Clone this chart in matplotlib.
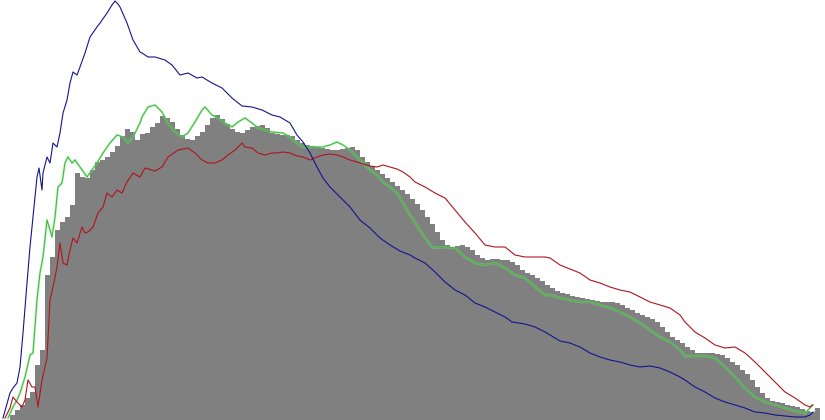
"""Image histogram: luminance bars with red, green and blue channel curves."""

import numpy as np
import matplotlib
matplotlib.use("Agg")
import matplotlib.pyplot as plt

# Luminance histogram, one value per 5-unit bin starting at 10
lum_start = 10
lum_step = 5
lum_counts = [
    5, 10, 15, 22, 28, 55, 70, 145, 163, 190, 198, 203, 215, 247, 243, 242,
    250, 258, 260, 263, 268, 274, 284, 291, 288, 280, 286, 287, 293, 297, 304, 302,
    298, 291, 285, 281, 280, 284, 288, 295, 302, 305, 301, 296, 291, 288, 287, 290,
    293, 294, 295, 292, 287, 286, 285, 285, 284, 280, 277, 275, 274, 273, 272, 271,
    270, 270, 271, 272, 273, 270, 263, 258, 254, 250, 246, 242, 238, 234, 230, 226,
    221, 216, 210, 203, 196, 188, 180, 175, 173, 174, 175, 173, 170, 165, 162, 160,
    161, 161, 160, 160, 158, 155, 150, 147, 145, 142, 139, 135, 132, 129, 127, 126,
    124, 123, 122, 121, 120, 119, 118, 118, 118, 117, 115, 112, 110, 107, 105, 103,
    101, 98, 93, 88, 83, 80, 77, 73, 70, 67, 67, 67, 67, 66, 65, 62,
    58, 55, 50, 46, 40, 33, 27, 22, 19, 18, 17, 15, 14, 13, 11, 9,
    8, 12,
]

# Blue channel
blue_x = [3, 10, 13, 17, 20, 23, 27, 30, 33, 37, 39, 42, 43, 47, 50, 53, 57, 60,
          63, 67, 70, 73, 77, 80, 85, 90, 97, 100, 107, 112, 115, 118, 120, 127,
          133, 140, 142, 148, 155, 165, 172, 180, 188, 197, 202, 212, 222, 232,
          242, 252, 262, 272, 280, 290, 297, 303, 310, 317, 323, 330, 340, 350,
          360, 370, 380, 390, 400, 410, 415, 425, 435, 445, 455, 465, 475, 485,
          495, 505, 512, 525, 535, 545, 550, 560, 570, 580, 590, 600, 610, 620,
          630, 640, 650, 660, 670, 680, 685, 695, 705, 715, 725, 735, 745, 755,
          765, 775, 785, 795, 805, 810, 813]
blue_y = [2, 27, 32, 37, 53, 87, 137, 173, 203, 243, 252, 230, 247, 263, 257, 277,
          273, 287, 307, 320, 337, 348, 345, 353, 367, 383, 393, 397, 407, 415,
          419, 416, 413, 397, 380, 368, 367, 363, 363, 360, 355, 345, 347, 342,
          343, 337, 332, 322, 314, 313, 310, 305, 303, 297, 285, 278, 267, 253,
          242, 233, 223, 213, 200, 192, 182, 175, 169, 165, 162, 157, 148, 138,
          130, 125, 117, 113, 108, 103, 98, 96, 93, 88, 85, 79, 77, 73, 67, 63,
          60, 58, 55, 53, 54, 52, 48, 43, 40, 33, 28, 22, 18, 15, 12, 8, 7, 5, 4,
          3, 3, 5, 8]

# Green channel
green_x = [8, 13, 17, 20, 25, 30, 33, 37, 40, 43, 47, 50, 52, 55, 58, 62, 65, 68,
           72, 75, 80, 87, 92, 97, 103, 110, 117, 123, 128, 133, 140, 142, 148,
           155, 162, 168, 175, 182, 188, 195, 202, 205, 212, 218, 225, 232, 238,
           245, 252, 258, 265, 272, 283, 290, 297, 303, 313, 323, 330, 337, 343,
           350, 357, 363, 370, 377, 383, 390, 397, 403, 410, 418, 425, 432, 438,
           445, 455, 465, 475, 485, 495, 505, 515, 525, 535, 545, 550, 560, 570,
           580, 590, 600, 610, 620, 630, 640, 650, 660, 670, 680, 685, 695, 705,
           715, 725, 735, 745, 755, 765, 775, 785, 795, 805, 810, 812]
green_y = [2, 13, 20, 27, 43, 65, 67, 120, 147, 163, 200, 190, 183, 203, 233, 237,
           257, 263, 257, 260, 253, 243, 250, 257, 267, 277, 285, 283, 277, 283,
           297, 303, 313, 315, 308, 297, 288, 283, 287, 298, 310, 313, 305, 302,
           297, 293, 298, 302, 297, 292, 290, 288, 287, 283, 277, 273, 273, 273,
           275, 278, 275, 270, 263, 257, 250, 245, 238, 233, 227, 217, 205, 193,
           182, 173, 172, 173, 172, 163, 157, 155, 157, 152, 145, 142, 133, 125,
           125, 122, 120, 118, 118, 115, 112, 108, 103, 97, 90, 83, 78, 70, 64,
           64, 64, 62, 53, 43, 32, 23, 18, 15, 12, 9, 7, 12, 15]

# Red channel
red_x = [5, 10, 13, 17, 22, 25, 28, 32, 35, 38, 42, 47, 50, 53, 57, 60, 63, 67,
         70, 73, 77, 82, 85, 88, 93, 98, 103, 107, 112, 117, 122, 127, 133, 140,
         145, 155, 162, 168, 178, 188, 195, 202, 208, 215, 222, 228, 235, 242,
         245, 252, 258, 265, 272, 277, 283, 290, 297, 303, 310, 317, 323, 330,
         337, 343, 350, 357, 363, 370, 377, 383, 390, 397, 403, 410, 415, 425,
         435, 445, 455, 465, 475, 485, 495, 505, 515, 525, 535, 545, 550, 560,
         570, 580, 590, 600, 610, 620, 630, 640, 650, 660, 670, 680, 685, 695,
         705, 715, 725, 735, 745, 755, 765, 775, 785, 795, 805, 810, 813]
red_y = [2, 12, 23, 18, 13, 20, 40, 33, 33, 13, 40, 62, 120, 133, 153, 177, 157,
         155, 170, 182, 177, 193, 187, 188, 193, 207, 213, 227, 223, 230, 227,
         238, 247, 243, 252, 249, 253, 263, 270, 272, 267, 260, 257, 257, 260,
         265, 270, 277, 273, 272, 267, 265, 267, 267, 268, 267, 264, 263, 260,
         263, 265, 266, 265, 263, 260, 258, 256, 254, 253, 255, 253, 251, 248,
         243, 238, 233, 227, 222, 210, 198, 187, 175, 173, 173, 165, 163, 163,
         163, 162, 155, 151, 147, 140, 137, 133, 130, 128, 123, 118, 115, 112,
         105, 98, 88, 82, 75, 72, 73, 67, 58, 48, 38, 28, 22, 15, 13, 15]

fig = plt.figure(figsize=(8.25, 4.2), dpi=100)
ax = fig.add_axes([0, 0, 1, 1])

edges = lum_start + lum_step * np.arange(len(lum_counts) + 1)
ax.stairs(lum_counts, edges, fill=True, color="#808080", linewidth=0)

# soft halo under the green curve, as in the source
ax.plot(green_x, green_y, color="#9ad89a", linewidth=1.8, alpha=0.45)
ax.plot(green_x, green_y, color="#36c236", linewidth=0.8)
ax.plot(red_x, red_y, color="#b0141e", linewidth=0.8)
ax.plot(blue_x, blue_y, color="#141490", linewidth=0.8)

ax.set_xlim(0, 825)
ax.set_ylim(0, 420)
ax.axis("off")

fig.savefig("out.png", dpi=100)
